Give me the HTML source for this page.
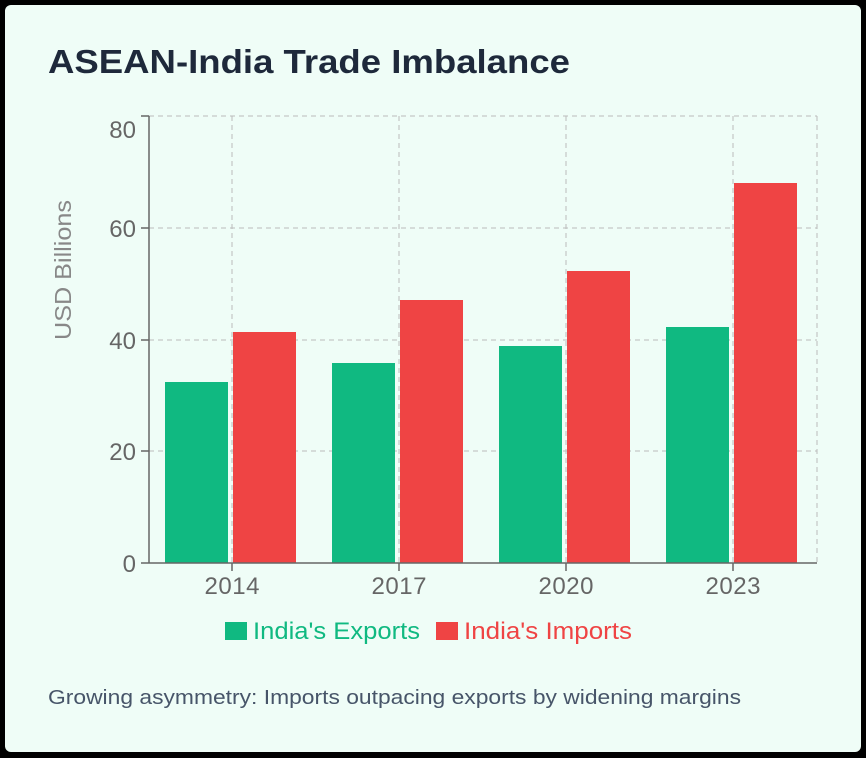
<!DOCTYPE html>
<html><head><meta charset="utf-8"><style>
html,body{margin:0;padding:0;width:866px;height:758px;overflow:hidden;background:#000}
.card{position:absolute;left:5px;top:5px;width:856px;height:747px;background:#effdf7;border-radius:6px}
text{font-family:"Liberation Sans",sans-serif}
</style></head><body>
<div class="card"></div>
<svg width="866" height="758" style="position:absolute;left:0;top:0">
<text x="48" y="73" font-size="33" font-weight="bold" fill="#1e293b" textLength="522" lengthAdjust="spacingAndGlyphs">ASEAN-India Trade Imbalance</text>
<g stroke="#bbb" stroke-dasharray="5,4" stroke-width="1">
<line x1="149" y1="116" x2="817" y2="116"/>
<line x1="149" y1="228" x2="817" y2="228"/>
<line x1="149" y1="340" x2="817" y2="340"/>
<line x1="149" y1="451" x2="817" y2="451"/>
<line x1="232" y1="116" x2="232" y2="563"/>
<line x1="399" y1="116" x2="399" y2="563"/>
<line x1="566" y1="116" x2="566" y2="563"/>
<line x1="733" y1="116" x2="733" y2="563"/>
<line x1="817" y1="116" x2="817" y2="563"/>
</g>
<g fill="#10b981">
<rect x="165" y="382" width="63" height="181"/>
<rect x="332" y="363" width="63" height="200"/>
<rect x="499" y="346" width="63" height="217"/>
<rect x="666" y="327" width="63" height="236"/>
</g>
<g fill="#ef4444">
<rect x="233" y="332" width="63" height="231"/>
<rect x="400" y="300" width="63" height="263"/>
<rect x="567" y="271" width="63" height="292"/>
<rect x="734" y="183" width="63" height="380"/>
</g>
<g stroke="#666" stroke-width="1.5" fill="none">
<line x1="149" y1="116" x2="149" y2="563"/>
<line x1="149" y1="563" x2="817" y2="563"/>
<line x1="141" y1="116" x2="149" y2="116"/><line x1="141" y1="228" x2="149" y2="228"/>
<line x1="141" y1="340" x2="149" y2="340"/><line x1="141" y1="451" x2="149" y2="451"/>
<line x1="141" y1="563" x2="149" y2="563"/>
<line x1="232" y1="563" x2="232" y2="571"/><line x1="399" y1="563" x2="399" y2="571"/>
<line x1="566" y1="563" x2="566" y2="571"/><line x1="733" y1="563" x2="733" y2="571"/>
</g>
<g font-size="24" fill="#666" text-anchor="end">
<text x="136" y="138">80</text><text x="136" y="237">60</text>
<text x="136" y="349">40</text><text x="136" y="460">20</text><text x="136" y="572">0</text>
</g>
<g font-size="24" fill="#666" text-anchor="middle">
<text x="232" y="594" textLength="55">2014</text><text x="399" y="594" textLength="55">2017</text>
<text x="566" y="594" textLength="55">2020</text><text x="733" y="594" textLength="55">2023</text>
</g>
<text transform="translate(71,270) rotate(-90)" font-size="23" fill="#888" text-anchor="middle" textLength="140" lengthAdjust="spacingAndGlyphs">USD Billions</text>
<rect x="225" y="622" width="22" height="18" fill="#10b981"/>
<text x="253" y="639" font-size="24" fill="#10b981" textLength="167" lengthAdjust="spacingAndGlyphs">India's Exports</text>
<rect x="436" y="622" width="22" height="18" fill="#ef4444"/>
<text x="464" y="639" font-size="24" fill="#ef4444" textLength="168" lengthAdjust="spacingAndGlyphs">India's Imports</text>
<text x="48" y="704" font-size="20" fill="#475569" textLength="693" lengthAdjust="spacingAndGlyphs">Growing asymmetry: Imports outpacing exports by widening margins</text>
</svg>
</body></html>
